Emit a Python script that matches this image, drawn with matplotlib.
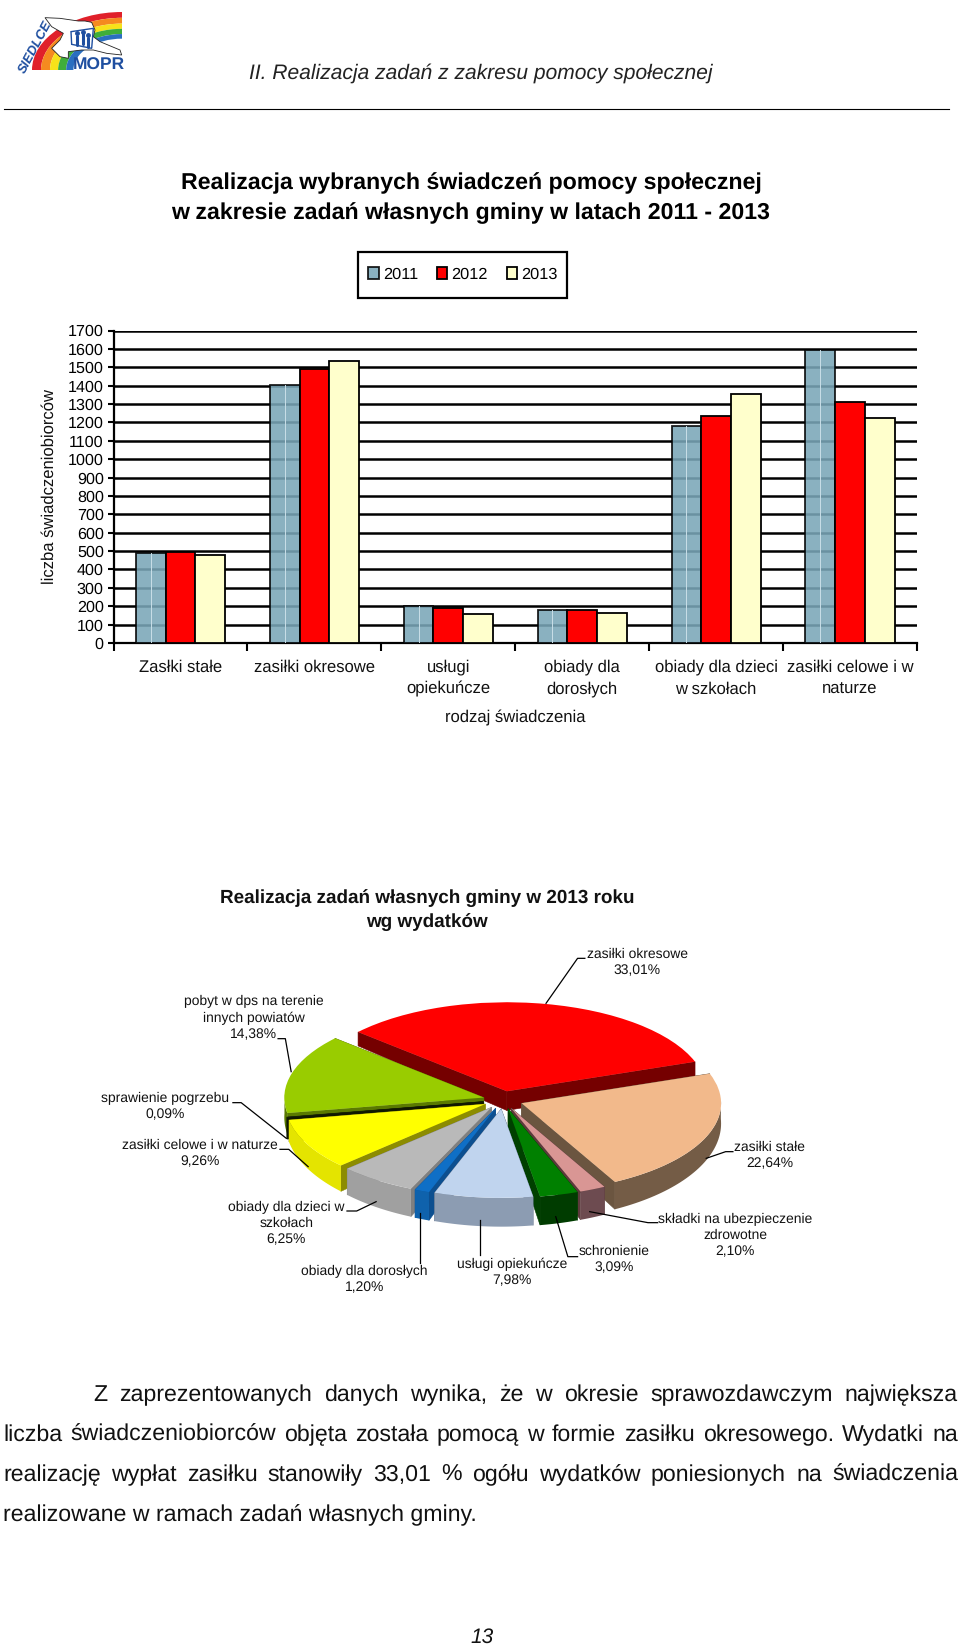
import numpy as np
import matplotlib
matplotlib.use("Agg")
import matplotlib.pyplot as plt
from matplotlib.patches import Wedge, Polygon, Rectangle

plt.rcParams['font.family'] = ['Liberation Sans', 'DejaVu Sans']
plt.rcParams['text.hinting'] = 'none'

# bar chart data
years = ['2011', '2012', '2013']
bar_categories = ['Zasłki stałe', 'zasiłki okresowe', 'usługi\nopiekuńcze', 'obiady dla\ndorosłych',
                  'obiady dla dzieci\nw szkołach', 'zasiłki celowe i w\nnaturze']
values_2011 = [490, 1405, 200, 178, 1180, 1595]
values_2012 = [495, 1490, 190, 180, 1235, 1310]
values_2013 = [480, 1535, 160, 165, 1355, 1225]

# pie chart data
pie_values = [33.01, 14.38, 0.09, 9.26, 6.25, 1.20, 7.98, 3.09, 2.10, 22.64]
pie_colors = ['#ff0000', '#99cc00', '#1a2a00', '#ffff00', '#b9b9b9', '#0f6fc6', '#c0d4ee', '#008000', '#d99694', '#f2b98b']
pie_sides = ['#750000', '#5a7a00', '#101800', '#8c8c00', '#808080', '#0c4f90', '#5c6e88', '#004000', '#5c3a3c', '#6b5540']
pie_rims = ['#750000', '#5a7a00', '#101800', '#e4e400', '#a0a0a0', '#0f62ac', '#8c9cb2', '#003c00', '#6d4b50', '#745c46']

W, H = 960, 1646
fig = plt.figure(figsize=(W / 100, H / 100), dpi=100, facecolor='white')


def box(x0, y0, x1, y1):
    # pixel box (y from top) to figure fractions
    return [x0 / W, 1 - y1 / H, (x1 - x0) / W, (y1 - y0) / H]


# page overlay in pixel coordinates
page = fig.add_axes([0, 0, 1, 1], zorder=5)
page.set_xlim(0, W)
page.set_ylim(H, 0)
page.axis('off')

# logo
logo = fig.add_axes(box(32, 12, 122, 70), zorder=1)
logo.set_xlim(-1, 0)
logo.set_ylim(0, 1)
logo.axis('off')
radii = [1, .90, .80, .71, .62, .54]
for r, c in zip(radii, ['#e0202a', '#f58a1f', '#f7e21a', '#3fae3a', '#2a6fc0']):
    logo.add_patch(Wedge((0, 0), r, 90, 180, width=r - radii[radii.index(r) + 1], fc=c, ec='none'))


def lp(pts):
    # logo crop coordinates to page pixels
    return [(10 + x / 3, 5 + y / 3) for x, y in pts]


dove = [(105, 38), (150, 40), (205, 48), (225, 48), (245, 52), (255, 75), (250, 95), (270, 110), (330, 135),
        (335, 150), (290, 145), (250, 135), (215, 135), (175, 140), (175, 160), (150, 155), (125, 130),
        (150, 105), (160, 85), (125, 65)]
page.add_patch(Polygon(lp(dove), closed=True, fc='white', ec='#222222', lw=0.6))
page.add_patch(Polygon(lp([(183, 80), (250, 70), (245, 130), (185, 118)]), closed=True, fc='white', ec='#1f4fa0', lw=1))
for x0, top in [(200, 92), (218, 88), (235, 98)]:
    (xs, ys) = zip(*lp([(x0, top), (x0, top + 28)]))
    page.plot(xs, ys, color='#1f4fa0', lw=2.2, solid_capstyle='round')
    page.plot(xs[0], ys[0] - 2.5, 'o', color='#1f4fa0', ms=2.5)
page.text(*lp([(76, 125)])[0], 'SIEDLCE', color='#1f4fa0', fontsize=9.5, fontweight='bold', style='italic',
          rotation=62, ha='center', va='center')
page.text(98.5, 65, 'MOPR', color='#1f4fa0', fontsize=12.5, fontweight='bold', ha='center', va='center')

# header
page.text(481, 73, 'II. Realizacja zadań z zakresu pomocy społecznej', fontsize=15.1, style='italic', color='#222222',
          ha='center', va='center')
page.plot([4, 949], [109, 109], color='black', lw=0.8)

# titles
page.text(471, 183, 'Realizacja wybranych świadczeń pomocy społecznej', fontsize=16.7, fontweight='bold', ha='center', va='center')
page.text(471, 213, 'w zakresie zadań własnych gminy w latach 2011 - 2013', fontsize=16.7, fontweight='bold', ha='center', va='center')

# bar chart
ax = fig.add_axes(box(113.5, 330.5, 917, 643), zorder=2)
x = np.arange(len(bar_categories))
width = 0.222
bars_2011 = ax.bar(x - width, values_2011, width, color='#7aa6b8', alpha=0.88, edgecolor='black', linewidth=1.3, label=years[0], zorder=3)
bars_2012 = ax.bar(x, values_2012, width, color='#ff0000', edgecolor='black', linewidth=1.3, label=years[1], zorder=3)
bars_2013 = ax.bar(x + width, values_2013, width, color='#ffffcc', edgecolor='black', linewidth=1.3, label=years[2], zorder=3)
for bar in bars_2011:
    bar.set_edgecolor((0, 0, 0, 1))
    ax.plot([bar.get_x() + bar.get_width() * .5] * 2, [0, bar.get_height()], color='#c9dfe8', lw=0.7, zorder=4)
ax.set_xlim(-0.5, len(bar_categories) - 0.5)
ax.set_ylim(0, 1700)
ax.set_yticks(np.arange(0, 1701, 100))
ax.set_xticks(np.arange(-0.5, len(bar_categories)))
ax.set_xticklabels([])
ax.grid(axis='y', color='black', lw=1.8, zorder=0)
ax.set_axisbelow(True)
ax.tick_params(axis='y', labelsize=11.6, length=4, width=1.5, pad=3, color='black')
ax.tick_params(axis='x', length=6, width=1.5)
for side in ['top', 'right']:
    ax.spines[side].set_visible(False)
ax.spines['left'].set_linewidth(1.6)
ax.spines['bottom'].set_linewidth(1.6)
for i, label in enumerate(bar_categories):
    lines = label.split('\n')
    for j, line in enumerate(lines):
        page.text(113.5 + (i + .5) * 803.5 / 6, 667 + j * 22, line, fontsize=12, ha='center', va='center', color='#111111')
page.text(515.5, 718, 'rodzaj świadczenia', fontsize=12, ha='center', va='center', color='#111111')
page.text(49, 487, 'liczba świadczeniobiorców', fontsize=12, rotation=90, ha='center', va='center', color='#111111')

leg = ax.legend(handles=[bars_2011, bars_2012, bars_2013], loc='center', bbox_to_anchor=(463 / W, 1 - 275 / H),
                bbox_transform=fig.transFigure, ncol=3, fontsize=11.8, frameon=False, handlelength=0.65,
                handleheight=0.75, handletextpad=0.25, columnspacing=1.15, borderpad=0.2, borderaxespad=0)
page.add_patch(Rectangle((358, 252), 209, 46, fc='none', ec='black', lw=1.6))

# pie title
page.text(427, 898, 'Realizacja zadań własnych gminy w 2013 roku', fontsize=13.6, fontweight='bold', ha='center', va='center', color='#111111')
page.text(427, 922, 'wg wydatków', fontsize=13.6, fontweight='bold', ha='center', va='center', color='#111111')

# pie chart, squashed by switching off the equal aspect
rx, ry = 199.5, 89
cx, cy = 503, 1100
pax = fig.add_axes(box(cx - 1.5 * rx, cy - 1.5 * ry, cx + 1.5 * rx, cy + 1.5 * ry), zorder=3)
wedges, _ = pax.pie(pie_values, explode=[0.1] * len(pie_values), colors=pie_colors, startangle=19.4, counterclock=True,
                    normalize=True, wedgeprops={'linewidth': 0})
pax.set_aspect('auto')
pax.set_xlim(-1.5, 1.5)
pax.set_ylim(-1.5, 1.5)
pax.axis('off')


def drop(pts):
    # walls get taller towards the viewer
    pts = np.asarray(pts, dtype=float)
    return pts - np.c_[np.zeros(len(pts)), (20 - 8 * pts[:, 1]) / ry]


order = sorted(range(len(wedges)), key=lambda i: -wedges[i].center[1])
for rank, i in enumerate(order):
    w = wedges[i]
    base = 10 + rank * 3
    w.set_zorder(base + 2)
    wc = np.array(w.center)
    th = np.deg2rad(np.linspace(w.theta1, w.theta2, 60))
    arc = np.c_[wc[0] + w.r * np.cos(th), wc[1] + w.r * np.sin(th)]
    for end in (arc[0], arc[-1]):
        edge = np.array([wc, end])
        pax.add_patch(Polygon(np.r_[edge, drop(edge)[::-1]], closed=True, fc=pie_sides[i], ec=pie_sides[i], lw=0.4, zorder=base))
    arc = arc[np.sin(th) < 0.05]
    if len(arc) > 1:
        pax.add_patch(Polygon(np.r_[arc, drop(arc)[::-1]], closed=True, fc=pie_rims[i], ec='none', zorder=base + 1))


def zp(pts):
    # pie crop coordinates to page pixels
    return [(80 + px / 2.06, 880 + py / 3) for px, py in pts]


# pie leader lines
leaders = [
    [(1040, 235), (1025, 235), (960, 370)],
    [(408, 476), (423, 476), (435, 575)],
    [(315, 668), (332, 668), (425, 775)],
    [(412, 808), (430, 808), (470, 860)],
    [(1345, 815), (1330, 815), (1290, 835)],
    [(550, 993), (570, 993), (610, 965)],
    [(1190, 1028), (1170, 1028), (1050, 995)],
    [(1025, 1130), (1005, 1130), (980, 1010)],
    [(825, 1020), (825, 1125)],
    [(700, 1000), (700, 1150)],
]
for pts in leaders:
    xs, ys = zip(*zp(pts))
    page.plot(xs, ys, color='black', lw=0.9)

pie_labels = [
    ('zasiłki okresowe\n33,01%', 1148, 248),
    ('pobyt w dps na terenie\ninnych powiatów\n14,38%', 358, 414),
    ('sprawienie pogrzebu\n0,09%', 175, 680),
    ('zasiłki celowe i w naturze\n9,26%', 248, 821),
    ('zasiłki stałe\n22,64%', 1421, 827),
    ('obiady dla dzieci w\nszkołach\n6,25%', 425, 1031),
    ('składki na ubezpieczenie\nzdrowotne\n2,10%', 1350, 1066),
    ('schronienie\n3,09%', 1101, 1139),
    ('usługi opiekuńcze\n7,98%', 890, 1178),
    ('obiady dla dorosłych\n1,20%', 586, 1200),
]
for text, px, py in pie_labels:
    tx, ty = zp([(px, py)])[0]
    page.text(tx, ty, text, fontsize=10, ha='center', va='center', linespacing=1.3, color='#111111')

# justified paragraph
renderer = fig.canvas.get_renderer()


def text_width(s, size):
    t = page.text(0, 0, s, fontsize=size)
    w = t.get_window_extent(renderer).width
    t.remove()
    return w


paragraph = [
    ('Z zaprezentowanych danych wynika, że w okresie sprawozdawczym największa', 93, 958, 1401, True),
    ('liczba świadczeniobiorców objęta została pomocą w formie zasiłku okresowego. Wydatki na', 3, 958, 1441, True),
    ('realizację wypłat zasiłku stanowiły 33,01 % ogółu wydatków poniesionych na świadczenia', 3, 958, 1481, True),
    ('realizowane w ramach zadań własnych gminy.', 3, 958, 1521, False),
]
size = 16.7
for line, left, right, y, justify in paragraph:
    if not justify:
        page.text(left, y, line, fontsize=size, ha='left', va='baseline', color='#111111')
        continue
    words = line.split(' ')
    widths = [text_width(w, size) for w in words]
    gap = (right - left - sum(widths)) / (len(words) - 1)
    pos = left
    for w, wd in zip(words, widths):
        page.text(pos, y, w, fontsize=size, ha='left', va='baseline', color='#111111')
        pos += wd + gap

page.text(482, 1637, '13', fontsize=15, style='italic', ha='center', va='center', color='#111111')

fig.savefig('out.png', dpi=100)
